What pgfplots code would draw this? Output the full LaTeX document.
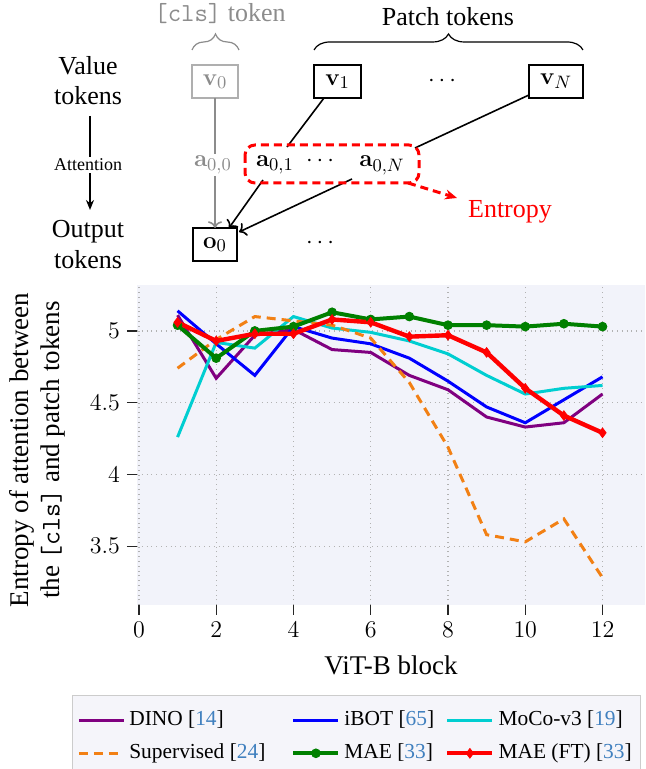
\documentclass[border=0pt]{standalone}
\usepackage[no-math]{fontspec}
\setmainfont{Liberation Serif}
\usepackage{pgfplots}
\pgfplotsset{compat=1.18}
\usetikzlibrary{decorations.pathreplacing,arrows.meta}
\definecolor{bgc}{RGB}{242,243,250}
\definecolor{legbg}{RGB}{245,245,250}
\definecolor{citeblue}{RGB}{64,128,191}
\definecolor{cpurple}{RGB}{128,0,128}
\definecolor{cblue}{RGB}{0,0,255}
\definecolor{ccyan}{RGB}{0,206,209}
\definecolor{corange}{RGB}{242,128,20}
\definecolor{cgreen}{RGB}{0,128,0}
\definecolor{cred}{RGB}{255,0,0}
\definecolor{tgray}{RGB}{140,140,140}
\newcommand\diag{\fontsize{13}{15}\selectfont}
\begin{document}
\begin{tikzpicture}
\useasboundingbox (0,0) rectangle (323pt,384.5pt);
\begin{scope}[shift={(0pt,384.5pt)},x=0.5pt,y=-0.5pt,font=\diag]
% headers
\node[tgray,anchor=base] at (220,22) {\texttt{[cls]} token};
\node[anchor=base] at (448,26) {Patch tokens};
\draw[tgray,line width=0.6pt,decorate,decoration={brace,amplitude=8pt}] (192,50) -- (239,50);
\draw[line width=0.6pt,decorate,decoration={brace,amplitude=8pt}] (314,50) -- (583,50);
% value boxes
\node[draw=tgray!70, text=tgray, line width=0.8pt, minimum width=23pt, minimum height=16.5pt, inner sep=0pt] at (215,81.5) {$\mathbf{v}_0$};
\node[draw, line width=0.8pt, minimum width=23.5pt, minimum height=16.5pt, inner sep=0pt] at (337.5,81.5) {$\mathbf{v}_1$};
\node at (442,81) {$\cdots$};
\node[draw, line width=0.8pt, minimum width=27pt, minimum height=16.5pt, inner sep=0pt] at (556,81.5) {$\mathbf{v}_N$};
% output box
\node[draw, line width=0.8pt, minimum width=22pt, minimum height=16.5pt, inner sep=0pt] at (215,244.5) {$\mathbf{o}_0$};
\node at (320,243) {$\cdots$};
% cls path
\draw[tgray, line width=0.8pt, -{To}] (215,98) -- (215,228);
\node[fill=white, text=tgray, inner sep=1pt, anchor=base] at (213,167) {$\mathbf{a}_{0,0}$};
% patch lines
\draw[line width=0.8pt] (324,98) -- (287,147);
\draw[line width=0.8pt] (529,95) -- (415,148);
\draw[line width=0.8pt,-{To}] (263,180) -- (229,228);
\draw[line width=0.8pt,-{To}] (352,179) -- (239,232);
\node[anchor=base] at (275,167) {$\mathbf{a}_{0,1}$};
\node[anchor=base] at (320,167) {$\cdots$};
\node[anchor=base] at (382,167) {$\mathbf{a}_{0,N}$};
\draw[cred, line width=1.5pt, dash pattern=on 4pt off 2.5pt, rounded corners=5pt] (245,145) rectangle (419,183);
\draw[cred, line width=1.5pt, dash pattern=on 4pt off 2.5pt, -{Stealth[length=6pt,width=5pt]}] (408,183) -- (457,198);
\node[cred, anchor=base] at (510,218) {Entropy};
% left column
\node[anchor=base] at (88,75) {Value};
\node[anchor=base] at (88,105) {tokens};
\draw[line width=0.8pt, -{Stealth[length=5pt,width=4pt]}] (90,116) -- (90,210);
\node[fill=white, inner sep=1pt, font=\fontsize{9}{10}\selectfont] at (88,165) {Attention};
\node[anchor=base] at (88,238) {Output};
\node[anchor=base] at (88,269) {tokens};
\end{scope}
\begin{axis}[
  at={(68.5pt,82pt)}, anchor=south west,
  scale only axis, width=254pt, height=160pt,
  xmin=-0.05, xmax=13.1, ymin=3.09, ymax=5.32,
  xtick={0,2,4,6,8,10,12}, ytick={3.5,4,4.5,5},
  tick align=outside, tick pos=left, major tick length=5pt,
  tick style={black!85, line width=0.6pt},
  axis line style={draw=none},
  grid=major, grid style={dotted, black!30, line width=0.6pt},
  axis background/.style={fill=bgc},
  ticklabel style={font=\fontsize{13}{15}\selectfont},
  label style={font=\fontsize{13.5}{15.5}\selectfont},
  xlabel={ViT-B block},
  xlabel style={at={(axis description cs:0.5,-0.1875)}, anchor=center},
  ylabel={Entropy of attention between\\the \texttt{[cls]} and patch tokens},
  ylabel style={at={(axis description cs:-0.196,0.484)}, anchor=center, align=center},
  legend columns=3, legend cell align=left,
  legend image code/.code={\draw[mark repeat=2,mark phase=2,#1] plot coordinates {(0pt,0pt) (11.25pt,0pt) (22.5pt,0pt)};},
  legend style={at={(-0.1285,-0.2803)}, anchor=north west, fill=legbg, draw=black!20, line width=0.6pt,
    font=\fontsize{10.7}{12.8}\selectfont, inner xsep=2.5pt, inner ysep=5.5pt, row sep=2.5pt,
    nodes={inner sep=2pt, text height=7.5pt, text depth=2.5pt}},
]
\addplot[cpurple, line width=1.5pt] coordinates {(1,5.11) (2,4.67) (3,4.97) (4,5.01) (5,4.87) (6,4.85) (7,4.69) (8,4.59) (9,4.40) (10,4.33) (11,4.36) (12,4.56)};
\addlegendentry{DINO [\textcolor{citeblue}{14}]}
\addplot[cblue, line width=1.5pt] coordinates {(1,5.14) (2,4.91) (3,4.69) (4,5.03) (5,4.95) (6,4.91) (7,4.81) (8,4.65) (9,4.47) (10,4.36) (11,4.52) (12,4.68)};
\addlegendentry{iBOT [\textcolor{citeblue}{65}]\rule{3.5pt}{0pt}}
\addplot[ccyan, line width=1.5pt] coordinates {(1,4.26) (2,4.92) (3,4.88) (4,5.10) (5,5.02) (6,4.99) (7,4.93) (8,4.84) (9,4.69) (10,4.56) (11,4.60) (12,4.62)};
\addlegendentry{MoCo-v3 [\textcolor{citeblue}{19}]}
\addplot[corange, line width=1.5pt, dash pattern=on 4.5pt off 3pt] coordinates {(1,4.74) (2,4.94) (3,5.10) (4,5.07) (5,5.04) (6,4.95) (7,4.64) (8,4.19) (9,3.58) (10,3.53) (11,3.69) (12,3.28)};
\addlegendentry{Supervised [\textcolor{citeblue}{24}]\rule{11pt}{0pt}}
\addplot[cgreen, line width=2pt, mark=*, mark size=2.2pt, mark options={line width=0.4pt}] coordinates {(1,5.04) (2,4.81) (3,5.00) (4,5.03) (5,5.13) (6,5.08) (7,5.10) (8,5.04) (9,5.04) (10,5.03) (11,5.05) (12,5.03)};
\addlegendentry{MAE [\textcolor{citeblue}{33}]}
\addplot[cred, line width=2.2pt, mark=diamond*, mark size=2.4pt, mark options={line width=0.4pt}] coordinates {(1,5.06) (2,4.93) (3,4.98) (4,4.98) (5,5.08) (6,5.06) (7,4.96) (8,4.97) (9,4.85) (10,4.60) (11,4.41) (12,4.29)};
\addlegendentry{MAE (FT) [\textcolor{citeblue}{33}]}
\end{axis}
\end{tikzpicture}
\end{document}
